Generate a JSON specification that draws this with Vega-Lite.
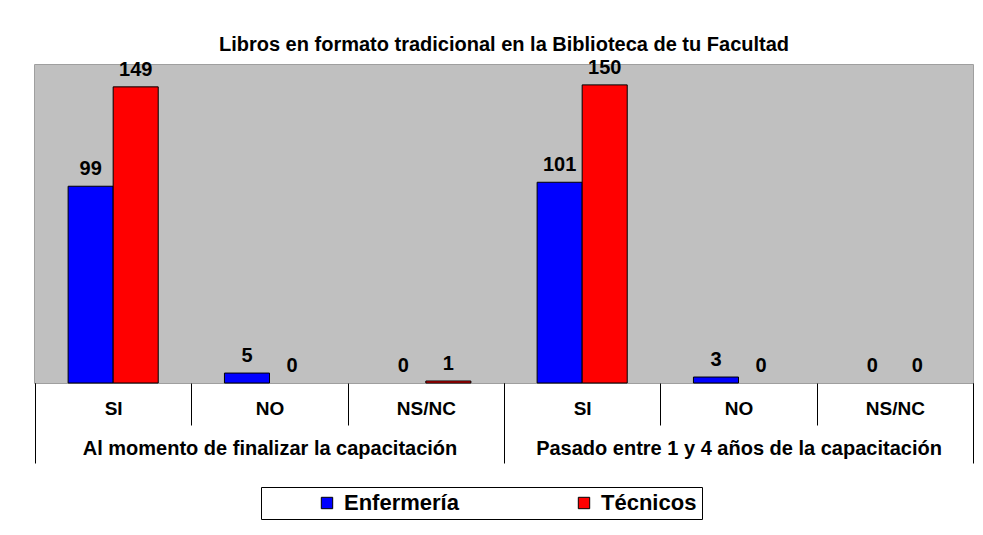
{
  "$schema": "https://vega.github.io/schema/vega-lite/v6.json",
  "width": 938,
  "height": 318,
  "autosize": {"type": "none"},
  "padding": {"left": 35, "top": 65, "right": 10, "bottom": 152},
  "background": "white",
  "title": {
    "text": "Libros en formato tradicional en la Biblioteca de tu Facultad",
    "font": "Liberation Sans",
    "fontSize": 20,
    "fontWeight": "bold",
    "color": "black",
    "anchor": "middle",
    "offset": 3
  },
  "data": {
    "values": [
      {"momento": "Al momento de finalizar la capacitación", "categoria": "Al momento de finalizar la capacitación|SI", "serie": "Enfermería", "valor": 99},
      {"momento": "Al momento de finalizar la capacitación", "categoria": "Al momento de finalizar la capacitación|SI", "serie": "Técnicos", "valor": 149},
      {"momento": "Al momento de finalizar la capacitación", "categoria": "Al momento de finalizar la capacitación|NO", "serie": "Enfermería", "valor": 5},
      {"momento": "Al momento de finalizar la capacitación", "categoria": "Al momento de finalizar la capacitación|NO", "serie": "Técnicos", "valor": 0},
      {"momento": "Al momento de finalizar la capacitación", "categoria": "Al momento de finalizar la capacitación|NS/NC", "serie": "Enfermería", "valor": 0},
      {"momento": "Al momento de finalizar la capacitación", "categoria": "Al momento de finalizar la capacitación|NS/NC", "serie": "Técnicos", "valor": 1},
      {"momento": "Pasado entre 1 y 4 años de la capacitación", "categoria": "Pasado entre 1 y 4 años de la capacitación|SI", "serie": "Enfermería", "valor": 101},
      {"momento": "Pasado entre 1 y 4 años de la capacitación", "categoria": "Pasado entre 1 y 4 años de la capacitación|SI", "serie": "Técnicos", "valor": 150},
      {"momento": "Pasado entre 1 y 4 años de la capacitación", "categoria": "Pasado entre 1 y 4 años de la capacitación|NO", "serie": "Enfermería", "valor": 3},
      {"momento": "Pasado entre 1 y 4 años de la capacitación", "categoria": "Pasado entre 1 y 4 años de la capacitación|NO", "serie": "Técnicos", "valor": 0},
      {"momento": "Pasado entre 1 y 4 años de la capacitación", "categoria": "Pasado entre 1 y 4 años de la capacitación|NS/NC", "serie": "Enfermería", "valor": 0},
      {"momento": "Pasado entre 1 y 4 años de la capacitación", "categoria": "Pasado entre 1 y 4 años de la capacitación|NS/NC", "serie": "Técnicos", "valor": 0}
    ]
  },
  "layer": [
    {
      "mark": {"type": "rect", "fill": "#C0C0C0", "strokeWidth": 0},
      "encoding": {
        "x": {
          "field": "momento",
          "type": "nominal",
          "sort": null,
          "scale": {"paddingInner": 0, "paddingOuter": 0},
          "axis": {
            "title": null,
            "orient": "bottom",
            "domain": false,
            "ticks": true,
            "tickBand": "extent",
            "tickSize": 80,
            "tickColor": "black",
            "tickWidth": 1,
            "labelAngle": 0,
            "labelPadding": -25,
            "labelFont": "Liberation Sans",
            "labelFontSize": 20,
            "labelFontWeight": "bold",
            "labelColor": "black",
            "labelLimit": 500
          }
        },
        "y": {"datum": 0, "type": "quantitative", "scale": {"domain": [0, 160]}, "axis": null},
        "y2": {"datum": 160}
      }
    },
    {
      "layer": [
        {
          "transform": [{"filter": "datum.valor > 0"}],
          "mark": {"type": "bar", "stroke": "black", "strokeWidth": 1},
          "encoding": {
            "x": {
              "field": "categoria",
              "type": "nominal",
              "sort": null,
              "scale": {"paddingInner": 0, "paddingOuter": 0},
              "axis": {
                "title": null,
                "orient": "bottom",
                "domain": false,
                "ticks": true,
                "tickBand": "extent",
                "tickSize": 42,
                "tickColor": "black",
                "tickWidth": 1,
                "labelAngle": 0,
                "labelPadding": -26,
                "labelExpr": "split(datum.label, '|')[1]",
                "labelFont": "Liberation Sans",
                "labelFontSize": 19,
                "labelFontWeight": "bold",
                "labelColor": "black"
              }
            },
            "xOffset": {
              "field": "serie",
              "type": "nominal",
              "sort": ["Enfermería", "Técnicos"],
              "scale": {"domain": ["Enfermería", "Técnicos"], "paddingInner": 0, "paddingOuter": 0.735}
            },
            "y": {"field": "valor", "type": "quantitative", "scale": {"domain": [0, 160]}, "axis": null},
            "color": {
              "field": "serie",
              "type": "nominal",
              "sort": ["Enfermería", "Técnicos"],
              "scale": {"domain": ["Enfermería", "Técnicos"], "range": ["#0000FF", "#FF0000"]},
              "legend": {
                "title": null,
                "orient": "none",
                "legendX": 226,
                "legendY": 422,
                "direction": "horizontal",
                "columns": 2,
                "gridAlign": "all",
                "padding": 5,
                "strokeColor": "black",
                "fillColor": "white",
                "symbolType": "square",
                "symbolSize": 130,
                "symbolStrokeColor": "black",
                "symbolStrokeWidth": 1,
                "symbolOpacity": 1,
                "labelFont": "Liberation Sans",
                "labelFontSize": 22,
                "labelFontWeight": "bold",
                "labelColor": "black",
                "labelOffset": 6,
                "columnPadding": 64,
                "symbolOffset": 50
              }
            }
          }
        },
        {
          "mark": {"type": "text", "font": "Liberation Sans", "fontSize": 20, "fontWeight": "bold", "color": "black", "baseline": "middle", "dy": -17},
          "encoding": {
            "x": {"field": "categoria", "type": "nominal", "sort": null},
            "xOffset": {"field": "serie", "type": "nominal", "sort": ["Enfermería", "Técnicos"]},
            "y": {"field": "valor", "type": "quantitative"},
            "text": {"field": "valor", "type": "quantitative"}
          }
        }
      ]
    }
  ],
  "resolve": {"scale": {"x": "independent"}, "axis": {"x": "independent"}},
  "config": {
    "view": {"stroke": "#808080", "strokeWidth": 1.5},
    "axis": {"grid": false}
  }
}
